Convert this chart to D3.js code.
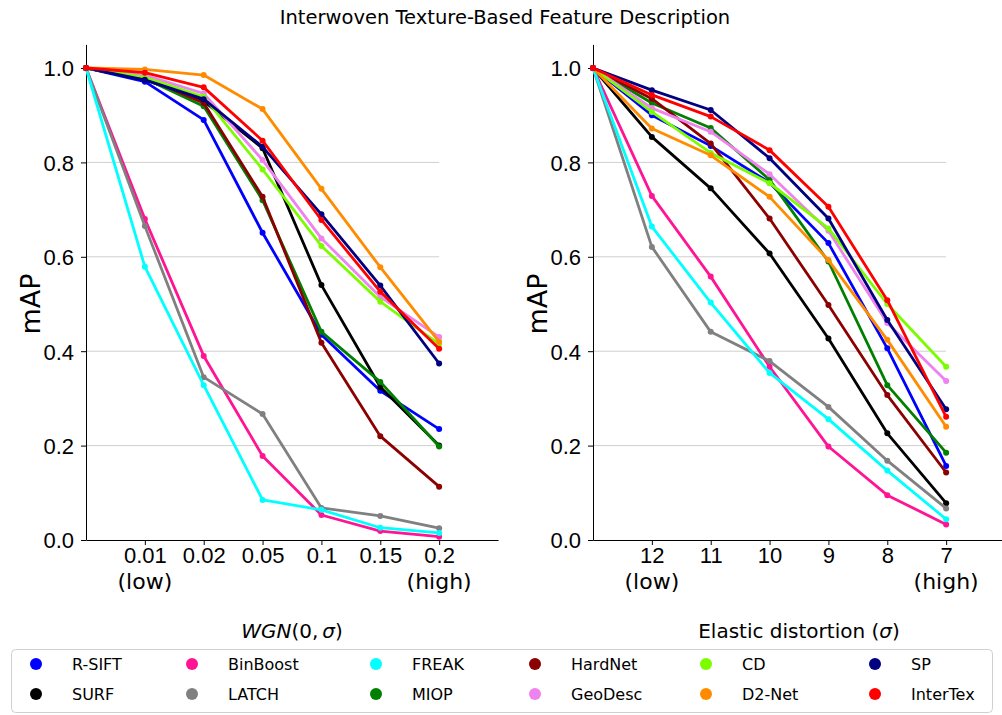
<!DOCTYPE html>
<html>
<head>
<meta charset="utf-8">
<script src="https://cdn.jsdelivr.net/npm/d3@7"></script>
<style>
  body { margin: 0; background: #fff; }
  svg { font-family: "DejaVu Sans", sans-serif; }
</style>
</head>
<body>
<div id="plot"></div>
<script>
// Data
const steps = [0, 1, 2, 3, 4, 5, 6];
const wgnLabels = ["", "0.01", "0.02", "0.05", "0.1", "0.15", "0.2"];
const elasticLabels = ["", "12", "11", "10", "9", "8", "7"];
const yTicks = [0, 0.2, 0.4, 0.6, 0.8, 1.0];
const gridTicks = [0.2, 0.4, 0.6, 0.8];

const methods = ["R-SIFT", "SURF", "BinBoost", "LATCH", "FREAK", "MIOP",
                 "HardNet", "GeoDesc", "CD", "D2-Net", "SP", "InterTex"];
const colors = ["#0000ff", "#000000", "#ff1493", "#808080", "#00ffff", "#008000",
                "#8b0000", "#ee82ee", "#7cfc00", "#ff8c00", "#000080", "#ff0000"];

// WGN(0, sigma)
const wgnRSIFT    = [1.0, 0.971, 0.89, 0.651, 0.435, 0.316, 0.235];
const wgnSURF     = [1.0, 0.975, 0.93, 0.83, 0.54, 0.324, 0.20];
const wgnBinBoost = [1.0, 0.68, 0.39, 0.178, 0.053, 0.019, 0.007];
const wgnLATCH    = [1.0, 0.665, 0.345, 0.267, 0.068, 0.051, 0.025];
const wgnFREAK    = [1.0, 0.579, 0.328, 0.085, 0.064, 0.026, 0.015];
const wgnMIOP     = [1.0, 0.978, 0.919, 0.72, 0.441, 0.335, 0.198];
const wgnHardNet  = [1.0, 0.98, 0.926, 0.727, 0.418, 0.22, 0.113];
const wgnGeoDesc  = [1.0, 0.985, 0.946, 0.805, 0.639, 0.515, 0.43];
const wgnCD       = [1.0, 0.98, 0.939, 0.785, 0.623, 0.505, 0.415];
const wgnD2Net    = [1.0, 0.997, 0.985, 0.913, 0.744, 0.578, 0.42];
const wgnSP       = [1.0, 0.975, 0.934, 0.833, 0.69, 0.539, 0.374];
const wgnInterTex = [1.0, 0.99, 0.959, 0.846, 0.678, 0.526, 0.405];

// Elastic distortion (sigma)
const elRSIFT    = [1.0, 0.90, 0.835, 0.757, 0.629, 0.406, 0.157];
const elSURF     = [1.0, 0.854, 0.745, 0.607, 0.427, 0.226, 0.078];
const elBinBoost = [1.0, 0.729, 0.558, 0.367, 0.198, 0.095, 0.033];
const elLATCH    = [1.0, 0.621, 0.441, 0.379, 0.282, 0.168, 0.067];
const elFREAK    = [1.0, 0.664, 0.503, 0.354, 0.256, 0.147, 0.044];
const elMIOP     = [1.0, 0.926, 0.873, 0.763, 0.59, 0.328, 0.185];
const elHardNet  = [1.0, 0.935, 0.84, 0.681, 0.498, 0.307, 0.143];
const elGeoDesc  = [1.0, 0.915, 0.865, 0.775, 0.655, 0.46, 0.337];
const elCD       = [1.0, 0.907, 0.82, 0.756, 0.66, 0.50, 0.367];
const elD2Net    = [1.0, 0.872, 0.815, 0.727, 0.593, 0.424, 0.24];
const elSP       = [1.0, 0.953, 0.911, 0.809, 0.681, 0.466, 0.277];
const elInterTex = [1.0, 0.943, 0.897, 0.826, 0.706, 0.508, 0.261];

const wgnSeries = [wgnRSIFT, wgnSURF, wgnBinBoost, wgnLATCH, wgnFREAK, wgnMIOP,
                   wgnHardNet, wgnGeoDesc, wgnCD, wgnD2Net, wgnSP, wgnInterTex];
const elSeries = [elRSIFT, elSURF, elBinBoost, elLATCH, elFREAK, elMIOP,
                  elHardNet, elGeoDesc, elCD, elD2Net, elSP, elInterTex];

// Layout
const W = 1002, H = 715;
const svg = d3.select("#plot").append("svg")
  .attr("width", W)
  .attr("height", H);

const y = d3.scaleLinear().domain([0, 1.05]).range([540, 44.4]);

// Title
svg.append("text")
  .attr("x", 505)
  .attr("y", 24)
  .attr("text-anchor", "middle")
  .style("font-size", "19.5px")
  .text("Interwoven Texture-Based Feature Description");

function drawPanel(x0, series, labels, titleParts) {
  const x = d3.scaleLinear().domain([0, 7]).range([x0, x0 + 412]);
  const g = svg.append("g");

  // Grid lines (only across the data range)
  g.selectAll(".grid")
    .data(gridTicks)
    .enter()
    .append("line")
    .attr("x1", x(0))
    .attr("x2", x(6))
    .attr("y1", d => y(d))
    .attr("y2", d => y(d))
    .attr("stroke", "#cfcfcf")
    .attr("stroke-width", 1);

  // Y axis
  const yAxis = g.append("g")
    .attr("transform", `translate(${x0},0)`)
    .call(d3.axisLeft(y).tickValues(yTicks).tickFormat(d3.format(".1f")).tickSize(5).tickSizeOuter(0));
  yAxis.selectAll("text").style("font-size", "22px").attr("fill", "#000").attr("x", -12).attr("dy", "0.36em");

  // X axis
  const xAxis = g.append("g")
    .attr("transform", `translate(0,${y(0)})`)
    .call(d3.axisBottom(x).tickValues(steps.slice(1)).tickFormat(i => labels[i]).tickSize(5).tickSizeOuter(0));
  xAxis.selectAll("text").style("font-size", "22px").attr("fill", "#000").attr("y", 7);

  g.selectAll(".domain, .tick line").attr("stroke", "#000").attr("stroke-width", 1);

  // (low) / (high) sub-labels
  g.append("text")
    .attr("x", x(1)).attr("y", 589)
    .attr("text-anchor", "middle")
    .style("font-size", "22px")
    .text("(low)");
  g.append("text")
    .attr("x", x(6)).attr("y", 589)
    .attr("text-anchor", "middle")
    .style("font-size", "22px")
    .text("(high)");

  // mAP label
  g.append("text")
    .attr("transform", `translate(${x0 - 46},${y(0.5)}) rotate(-90)`)
    .attr("text-anchor", "middle")
    .style("font-size", "27px")
    .text("mAP");

  // X title
  const t = g.append("text")
    .attr("x", x(3.5))
    .attr("y", 638)
    .attr("text-anchor", "middle")
    .style("font-size", "20px");
  titleParts.forEach(p => {
    t.append("tspan").style("font-style", p[1] ? "italic" : "normal").text(p[0]);
  });

  const line = d3.line()
    .x((d, i) => x(steps[i]))
    .y(d => y(d));

  series.forEach((vals, k) => {
    g.append("path")
      .attr("d", line(vals))
      .attr("fill", "none")
      .attr("stroke", colors[k])
      .attr("stroke-width", 2.8)
      .attr("stroke-linejoin", "round");
    g.selectAll(null)
      .data(vals)
      .enter()
      .append("circle")
      .attr("cx", (d, i) => x(steps[i]))
      .attr("cy", d => y(d))
      .attr("r", 3)
      .attr("fill", colors[k]);
  });
}

drawPanel(86, wgnSeries, wgnLabels, [["WGN", true], ["(0,\u2009", false], ["σ", true], [")", false]]);
drawPanel(593, elSeries, elasticLabels, [["Elastic distortion (", false], ["σ", true], [")", false]]);

// Legend
svg.append("rect")
  .attr("x", 11.5)
  .attr("y", 649.5)
  .attr("width", 981)
  .attr("height", 63)
  .attr("rx", 4)
  .attr("fill", "#fff")
  .attr("stroke", "#d0d0d0");

const colX = [36, 192, 376, 535, 706, 875];
const rowY = [664, 694];
const legend = svg.selectAll(".legend")
  .data(methods)
  .enter()
  .append("g")
  .attr("class", "legend")
  .attr("transform", (d, i) => `translate(${colX[Math.floor(i / 2)]},${rowY[i % 2]})`);

legend.append("circle")
  .attr("r", 6)
  .attr("fill", (d, i) => colors[i]);

legend.append("text")
  .attr("x", 36)
  .attr("dy", "0.35em")
  .style("font-size", "16px")
  .text(d => d);
</script>
</body>
</html>
